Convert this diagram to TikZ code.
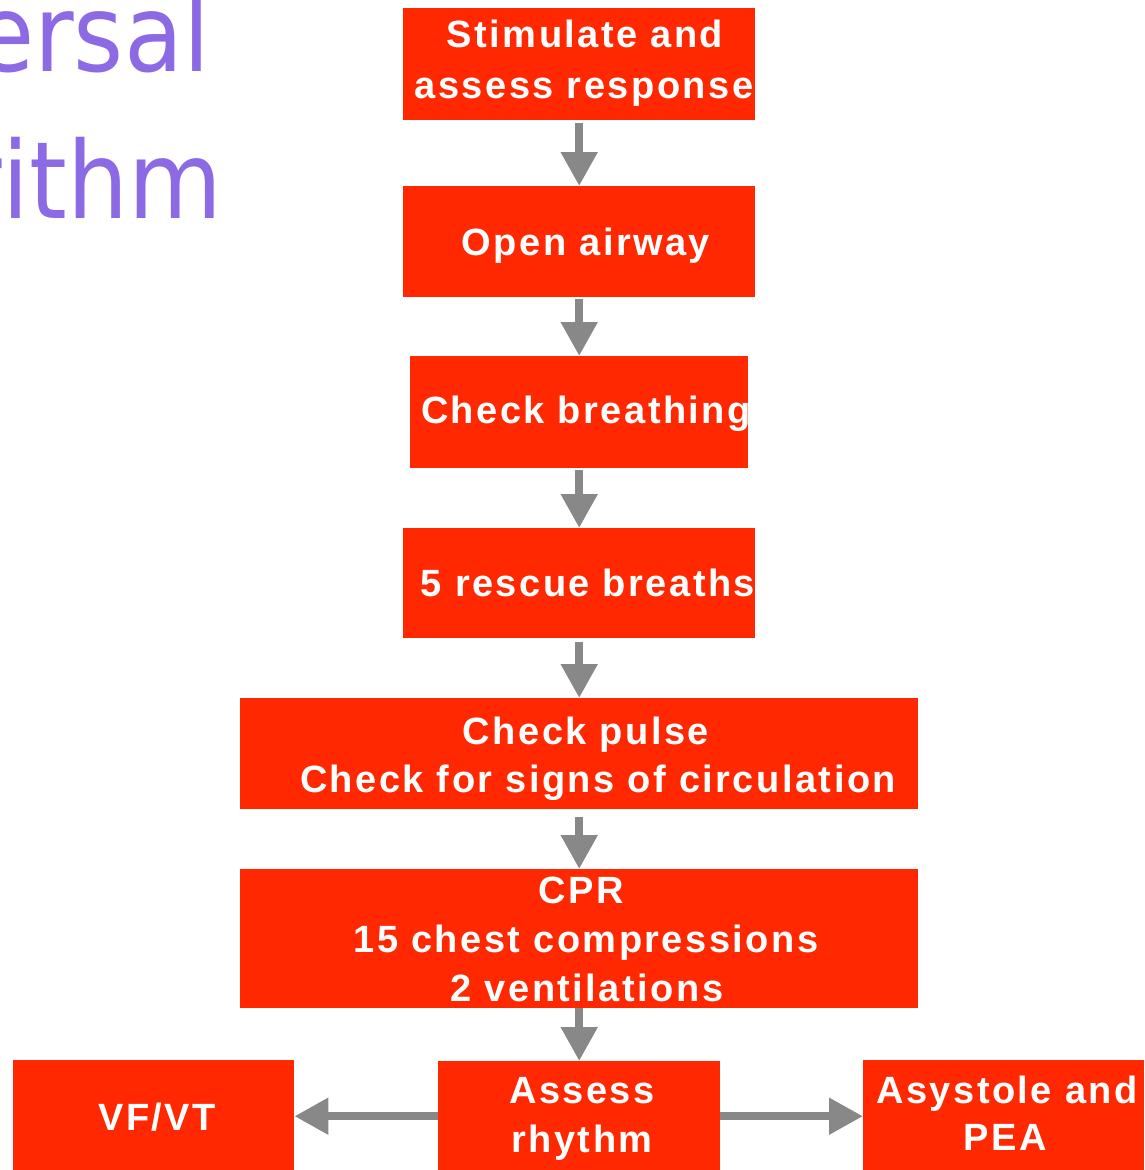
\documentclass[tikz,border=0pt]{standalone}
\usepackage{fontspec}
\setmainfont{Liberation Sans}
\newfontfamily\boxfont[LetterSpace=6.5]{Liberation Sans}
\newfontfamily\titlefont{DejaVu Sans Condensed}
\usetikzlibrary{arrows.meta}
\definecolor{boxred}{RGB}{255,40,0}
\definecolor{arrgray}{RGB}{136,136,136}
\definecolor{titlepurple}{RGB}{140,106,228}
\begin{document}
\begin{tikzpicture}[x=1pt,y=-1pt,
  box/.style={fill=boxred, draw=none, inner sep=0pt, anchor=north west},
  lbl/.style={anchor=base, text=white, inner sep=0pt, font=\boxfont\bfseries\fontsize{38}{46}\selectfont},
  ttl/.style={anchor=base east, text=titlepurple, inner sep=0pt, font=\titlefont\fontsize{107}{107}\selectfont},
  arr/.style={draw=arrgray, line width=8pt, -{Triangle[width=35pt,length=34pt]}}]
\useasboundingbox (0,0) rectangle (1144,1170);
\clip (0,0) rectangle (1144,1170);
% title fragments
\node[ttl] (ti1) at (210,71) {ersal};
\node[ttl] (ti2) at (222,218) {rithm};
% boxes
\node[box, minimum width=352pt, minimum height=112pt] (b1) at (403,8) {};
\node[box, minimum width=352pt, minimum height=111pt] (b2) at (403,186) {};
\node[box, minimum width=338pt, minimum height=112pt] (b3) at (410,356) {};
\node[box, minimum width=352pt, minimum height=110pt] (b4) at (403,528) {};
\node[box, minimum width=678pt, minimum height=111pt] (b5) at (240,698) {};
\node[box, minimum width=678pt, minimum height=139pt] (b6) at (240,869) {};
\node[box, minimum width=282pt, minimum height=110pt] (b7) at (438,1061) {};
\node[box, minimum width=281pt, minimum height=112pt] (b8) at (13,1060) {};
\node[box, minimum width=281pt, minimum height=112pt] (b9) at (863,1060) {};
% texts
\node[lbl] (t1a) at (585,47) {Stimulate and};
\node[lbl] (t1b) at (584,98) {assess response};
\node[lbl] (t2) at (586,255) {Open airway};
\node[lbl] (t3) at (586,423) {Check breathing};
\node[lbl] (t4) at (588,596) {5 rescue breaths};
\node[lbl] (t5a) at (586,744) {Check pulse};
\node[lbl] (t5b) at (598,792) {Check for signs of circulation};
\node[lbl] (t6a) at (581,903) {CPR};
\node[lbl] (t6b) at (586,952) {15 chest compressions};
\node[lbl] (t6c) at (587,1001) {2 ventilations};
\node[lbl] (t7a) at (582,1103) {Assess};
\node[lbl] (t7b) at (582,1152) {rhythm};
\node[lbl] (t8) at (157,1130) {VF/VT};
\node[lbl] (t9a) at (1007,1103) {Asystole and};
\node[lbl] (t9b) at (1005,1150) {PEA};
% connectors
\draw[arr, shorten <=3pt] (b1.south) -- (b2.north);
\draw[arr, shorten <=2pt] (b2.south) -- (b3.north);
\draw[arr, shorten <=2pt] (b3.south) -- (b4.north);
\draw[arr, shorten <=4pt] (b4.south) -- (b5.north);
\draw[arr, shorten <=8pt] (b5.south) -- (b6.north);
\draw[arr] (b6.south) -- (b7.north);
\draw[arr] (b7.west) -- (b8.east);
\draw[arr] (b7.east) -- (b9.west);
\end{tikzpicture}
\end{document}
